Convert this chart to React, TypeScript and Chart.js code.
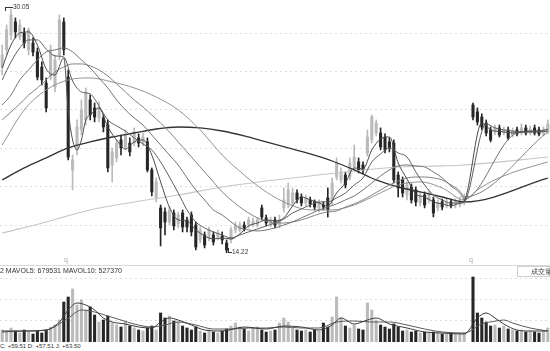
import React, { useEffect, useRef } from "react";
import { Chart, registerables } from "chart.js";
Chart.register(...registerables);

// ---- price data (trading-day index 0..124, index 106 = suspended) ----
const opens: (number | null)[] = [
  26.29, 27.40, 28.37, 29.22, 28.24, 28.50, 27.40, 27.85, 27.27, 26.29,
  25.25, 25.64, 24.99, 27.07, 29.22, 25.64, 19.60, 20.90, 22.20, 22.85,
  24.15, 23.63, 22.98, 22.98, 22.52, 19.92, 20.38, 21.55, 21.09, 21.35,
  21.35, 21.68, 21.35, 21.42, 19.60, 17.78, 17.13, 16.87, 16.22, 16.80,
  16.09, 16.80, 16.35, 16.67, 16.02, 15.05, 15.37, 15.18, 15.37, 15.24,
  15.31, 14.85, 15.05, 15.70, 15.70, 16.02, 16.02, 16.09, 16.02, 17.13,
  16.48, 16.09, 16.35, 16.02, 17.13, 17.32, 17.45, 18.10, 17.84, 17.45,
  17.65, 17.52, 17.13, 17.32, 17.78, 17.65, 19.14, 18.95, 19.27, 19.14,
  19.79, 20.12, 19.92, 20.70, 21.55, 22.00, 22.00, 21.74, 21.42, 21.35,
  19.27, 18.95, 17.97, 18.49, 18.30, 17.45, 17.97, 17.65, 17.65, 17.13,
  17.52, 17.32, 17.52, 17.32, 17.32, 17.45, null, 23.82, 23.37, 23.04,
  22.65, 22.20, 22.07, 22.33, 22.00, 22.20, 21.87, 22.20, 22.00, 22.33,
  22.00, 22.33, 22.20, 21.94, 22.07,
];
const closes: (number | null)[] = [
  27.07, 28.70, 29.67, 28.57, 29.02, 27.85, 28.70, 27.27, 25.64, 25.45,
  23.63, 27.40, 26.75, 29.35, 27.40, 20.44, 20.25, 22.39, 23.50, 24.67,
  23.17, 23.04, 23.63, 22.39, 19.73, 20.77, 21.35, 21.03, 21.87, 20.77,
  22.07, 21.35, 21.74, 19.60, 18.17, 18.82, 15.83, 16.22, 17.00, 15.96,
  16.67, 15.89, 15.89, 15.57, 14.59, 15.70, 14.72, 15.70, 14.92, 15.50,
  15.05, 14.40, 15.70, 15.96, 16.02, 15.83, 16.35, 16.28, 16.35, 16.54,
  16.15, 16.35, 16.02, 16.35, 17.65, 18.30, 18.10, 17.65, 17.45, 17.78,
  17.39, 17.19, 17.45, 17.19, 17.00, 18.75, 20.05, 19.47, 18.62, 20.05,
  20.44, 19.60, 19.60, 21.74, 23.04, 22.65, 21.09, 20.90, 21.03, 18.95,
  18.43, 18.10, 18.62, 17.65, 17.52, 17.97, 17.32, 18.10, 16.80, 17.45,
  17.19, 17.52, 17.32, 17.52, 17.65, 17.84, null, 23.04, 22.72, 22.39,
  22.00, 21.55, 22.33, 21.87, 22.20, 21.68, 22.13, 21.94, 22.33, 22.00,
  22.26, 22.00, 21.94, 22.20, 22.59,
];
const highs: (number | null)[] = [
  27.72, 29.02, 30.05, 29.48, 29.35, 28.83, 28.83, 28.18, 27.53, 26.62,
  25.58, 27.72, 27.07, 29.67, 29.48, 26.10, 20.57, 22.85, 24.15, 24.93,
  24.47, 23.95, 24.02, 23.17, 22.85, 21.03, 21.55, 21.87, 22.20, 21.68,
  22.33, 21.94, 22.00, 21.68, 19.73, 19.08, 17.32, 17.13, 17.19, 17.00,
  16.87, 17.00, 16.54, 16.87, 16.22, 15.89, 15.57, 15.89, 15.57, 15.70,
  15.57, 15.05, 15.89, 16.22, 16.22, 16.22, 16.54, 16.48, 16.48, 17.32,
  16.67, 16.54, 16.54, 16.67, 18.43, 18.75, 18.43, 18.30, 18.04, 17.97,
  17.84, 17.65, 17.65, 17.52, 18.43, 19.08, 20.38, 19.73, 19.47, 20.38,
  21.22, 20.38, 20.12, 22.20, 23.17, 22.85, 22.33, 21.94, 21.68, 21.55,
  19.47, 19.14, 18.82, 18.69, 18.49, 18.17, 18.17, 18.30, 17.84, 17.65,
  17.71, 17.71, 17.71, 17.71, 17.84, 18.04, null, 23.95, 23.63, 23.24,
  22.85, 22.39, 22.52, 22.52, 22.39, 22.39, 22.33, 22.39, 22.59, 22.52,
  22.46, 22.52, 22.39, 22.39, 22.85,
];
const lows: (number | null)[] = [
  25.77, 27.07, 28.05, 28.18, 28.05, 27.53, 27.07, 27.01, 25.45, 25.12,
  23.37, 25.45, 24.67, 26.75, 27.07, 20.25, 18.30, 20.57, 21.87, 22.52,
  22.85, 22.72, 22.72, 22.07, 19.47, 18.82, 20.12, 20.57, 20.90, 20.51,
  21.16, 21.09, 21.16, 19.47, 17.91, 17.52, 14.66, 15.37, 16.02, 15.70,
  15.83, 15.57, 15.57, 15.31, 14.40, 14.85, 14.53, 14.98, 14.72, 15.05,
  14.79, 14.22, 14.85, 15.50, 15.57, 15.63, 15.83, 15.89, 15.89, 16.35,
  15.96, 15.89, 15.83, 15.83, 16.87, 17.13, 17.26, 17.45, 17.26, 17.26,
  17.19, 17.00, 16.87, 17.00, 16.54, 17.32, 18.95, 18.75, 18.43, 18.95,
  19.60, 19.40, 19.34, 20.51, 21.35, 21.81, 20.90, 20.70, 20.77, 18.75,
  17.84, 17.84, 17.65, 17.45, 17.26, 17.26, 17.13, 17.45, 16.54, 16.93,
  17.00, 17.13, 17.13, 17.13, 17.19, 17.32, null, 22.85, 22.52, 22.20,
  21.81, 21.42, 21.87, 21.74, 21.87, 21.55, 21.74, 21.81, 21.87, 21.87,
  21.87, 21.87, 21.81, 21.81, 21.94,
];
// volume, thousands of shares
const volumes: (number | null)[] = [
  300, 250, 350, 275, 225, 300, 250, 200, 275, 225,
  300, 375, 425, 550, 1000, 1125, 1325, 925, 1050, 800,
  875, 675, 500, 550, 650, 475, 425, 375, 500, 400,
  350, 300, 275, 350, 400, 300, 725, 600, 650, 525,
  500, 400, 350, 300, 375, 275, 225, 300, 250, 225,
  275, 325, 400, 475, 375, 325, 275, 350, 375, 300,
  250, 275, 300, 475, 600, 500, 350, 300, 275, 300,
  250, 300, 275, 475, 375, 625, 1125, 600, 400, 350,
  425, 325, 300, 975, 800, 550, 425, 375, 325, 450,
  375, 275, 300, 250, 275, 225, 250, 225, 250, 225,
  200, 200, 225, 200, 200, 225, null, 1625, 725, 600,
  500, 400, 425, 350, 400, 325, 300, 275, 300, 250,
  275, 250, 225, 275, 350,
];

// ---- moving averages: [day index, value] ----
const ma5: [number, number][] = [
  [0, 26.23], [2, 27.72], [4, 28.5], [6, 28.57], [8, 27.72], [10, 26.16], [12, 25.77], [14, 26.88],
  [15, 23.5], [16, 21.55], [17, 20.9], [18, 21.55], [19, 22.85], [20, 23.17], [22, 23.63], [24, 22.39],
  [26, 21.55], [28, 20.96], [30, 21.42],
  [32, 21.55], [34, 20.57], [36, 18.82], [38, 17.19], [40, 16.35], [42, 16.28], [44, 15.7], [46, 15.31],
  [48, 15.11], [50, 15.18], [52, 15.11], [54, 15.44], [56, 15.96], [58, 16.15], [60, 16.35], [62, 16.28],
  [64, 16.48], [66, 17.26], [68, 17.84], [70, 17.65], [72, 17.45], [74, 17.26], [76, 18.1], [78, 18.75],
  [80, 19.73], [82, 19.66], [84, 20.9], [86, 21.61], [88, 21.74], [90, 20.05], [92, 19.01], [94, 18.04],
  [96, 17.84], [98, 17.52], [100, 17.39], [102, 17.26], [104, 17.45], [105, 17.58],
  [109, 22.65], [110, 22.46], [111, 22.2], [112, 22.13], [114, 22.07], [116, 22.0], [118, 22.07],
  [120, 22.13], [122, 22.13], [124, 22.26],
];
const ma10: [number, number][] = [
  [0, 25.45], [2, 26.62], [4, 27.53], [6, 28.05], [8, 28.05], [10, 27.46], [12, 27.01], [14, 26.94],
  [16, 25.38], [18, 24.67], [20, 24.54], [22, 23.76], [24, 22.85], [26, 22.46], [28, 22.13], [30, 21.68],
  [32, 21.29], [34, 20.9], [36, 20.12], [38, 19.14], [40, 18.1], [42, 17.0], [44, 16.22], [46, 15.83],
  [48, 15.57], [50, 15.37], [52, 15.18], [54, 15.37], [56, 15.57], [58, 15.76], [60, 15.96], [62, 16.15],
  [64, 16.41], [66, 16.8], [68, 17.06], [70, 17.32], [72, 17.52], [74, 17.52], [76, 17.78], [78, 18.1],
  [80, 18.62], [82, 19.08], [84, 20.12], [86, 20.64], [88, 21.03], [90, 20.7], [92, 20.44], [94, 19.47],
  [96, 18.62], [98, 17.97], [100, 17.65], [102, 17.45], [104, 17.45], [105, 17.52],
  [110, 22.59], [112, 22.33], [114, 22.2], [116, 22.13], [118, 22.07], [120, 22.07], [122, 22.07], [124, 22.13],
];
const ma20: [number, number][] = [
  [0, 23.82], [2, 24.47], [4, 25.45], [6, 26.1], [8, 26.75], [10, 27.27], [12, 27.4], [14, 27.53],
  [16, 27.27], [18, 26.75], [20, 26.23], [22, 25.58], [24, 24.93], [26, 24.15], [28, 23.5], [30, 22.98],
  [32, 22.52], [34, 21.87], [36, 21.22], [38, 20.57], [40, 19.92], [42, 19.08], [44, 18.3], [46, 17.65],
  [48, 17.0], [50, 16.67], [52, 16.22], [54, 15.83], [56, 15.7], [58, 15.63], [60, 15.7], [62, 15.83],
  [64, 16.02], [66, 16.22], [68, 16.48], [70, 16.74], [72, 17.0], [74, 17.19], [76, 17.39], [78, 17.65],
  [80, 17.91], [82, 18.3], [84, 18.75], [86, 19.21], [88, 19.6], [90, 19.86], [92, 19.92], [94, 19.86],
  [96, 19.79], [98, 19.47], [100, 19.08], [102, 18.56], [104, 18.1], [105, 17.71],
  [117, 22.0], [120, 22.07], [124, 22.13],
];
const ma30: [number, number][] = [
  [0, 22.85], [2, 23.37], [4, 23.89], [6, 24.47], [8, 24.93], [10, 25.45], [12, 25.97], [14, 26.29],
  [16, 26.49], [18, 26.49], [20, 26.36], [22, 26.1], [24, 25.71], [26, 25.19], [28, 24.67], [30, 24.15],
  [32, 23.69], [34, 23.17], [36, 22.65], [38, 22.07], [40, 21.42], [42, 20.77], [44, 20.12], [46, 19.47],
  [48, 18.82], [50, 18.17], [52, 17.65], [54, 17.19], [56, 16.8], [58, 16.48], [60, 16.28], [62, 16.15],
  [64, 16.15], [66, 16.22], [68, 16.35], [70, 16.54], [72, 16.74], [74, 16.87], [76, 16.93], [78, 17.19],
  [80, 17.39], [82, 17.65], [84, 17.97], [86, 18.3], [88, 18.62], [90, 18.88], [92, 19.08], [94, 19.14],
  [96, 19.14], [98, 19.08], [100, 18.95], [102, 18.62], [104, 18.23], [105, 17.84],
  [124, 22.07],
];
const ma60: [number, number][] = [
  [0, 21.22], [5, 23.5], [10, 24.8], [15, 25.45], [20, 25.58], [25, 25.32], [30, 24.93], [35, 24.34],
  [40, 23.5], [45, 22.2], [50, 20.57], [55, 19.27], [60, 18.17], [65, 17.39], [70, 17.0], [75, 17.0],
  [80, 17.32], [85, 17.97], [90, 18.62], [95, 18.82], [100, 18.43], [105, 17.65],
  [108, 18.3], [111, 18.82], [114, 19.21], [117, 19.53], [120, 19.79], [124, 20.12],
];
const ma120: [number, number][] = [
  [0, 18.95], [5, 19.73], [10, 20.38], [15, 21.03], [20, 21.42], [25, 21.74], [30, 22.0], [35, 22.26],
  [40, 22.39], [45, 22.33], [50, 22.13], [55, 21.81], [60, 21.42], [65, 21.03], [70, 20.64], [75, 20.18],
  [80, 19.6], [85, 18.95], [90, 18.49], [95, 18.17], [100, 17.84], [105, 17.52], [124, 19.07],
];
const ma250: [number, number][] = [
  [0, 15.5], [10, 16.22], [20, 17.0], [30, 17.52], [40, 17.97], [50, 18.49], [60, 18.88], [70, 19.21],
  [80, 19.53], [90, 19.79], [100, 19.86], [105, 19.92], [124, 20.44],
];
const mavol5: [number, number][] = [
  [0, 275], [5, 275], [10, 300], [13, 500], [15, 800], [17, 975], [19, 925], [21, 800], [23, 600], [25, 500],
  [28, 450], [31, 375], [34, 350], [36, 500], [38, 600], [40, 550], [43, 425], [46, 300], [50, 275], [55, 375],
  [60, 325], [64, 400], [68, 375], [72, 300], [75, 425], [77, 600], [80, 450], [83, 550], [85, 600], [88, 450],
  [92, 350], [96, 250], [100, 225], [105, 200], [108, 600], [110, 725], [112, 600], [114, 450], [117, 300],
  [120, 275], [124, 275],
];
const mavol10: [number, number][] = [
  [0, 250], [5, 275], [10, 300], [15, 600], [18, 800], [21, 750], [24, 650], [27, 550], [30, 450], [34, 375],
  [37, 425], [40, 500], [44, 425], [48, 325], [52, 325], [56, 350], [60, 350], [64, 375], [68, 350], [72, 350],
  [76, 500], [80, 525], [84, 500], [88, 500], [92, 425], [96, 325], [100, 250], [105, 225], [109, 450],
  [112, 520], [114, 550], [116, 475], [120, 350], [124, 275],
];

const priceGrid = [28.5, 26, 23.5, 21, 18.5, 16];
const volGrid = [530, 1060, 1590];

const UP = "#bababa";
const DOWN = "#262626";

function lineDs(label: string, pts: [number, number][], color: string, width: number) {
  return {
    type: "line" as const,
    label,
    data: pts.map(([x, y]) => ({ x, y })),
    borderColor: color,
    borderWidth: width,
    pointRadius: 0,
    cubicInterpolationMode: "monotone" as const,
    fill: false,
    order: 0,
  };
}

const baseX = {
  type: "linear" as const, min: -0.5, max: 124.5, display: false, offset: false,
  grid: { offset: false },
};

export default function App() {
  const priceRef = useRef<HTMLCanvasElement>(null);
  const volRef = useRef<HTMLCanvasElement>(null);

  useEffect(() => {
    const wick: any[] = [];
    const body: any[] = [];
    const vol: any[] = [];
    const cols: string[] = [];
    for (let i = 0; i < opens.length; i++) {
      const o = opens[i], c = closes[i], h = highs[i], l = lows[i], v = volumes[i];
      if (o == null || c == null || h == null || l == null) continue;
      const col = c >= o ? UP : DOWN;
      wick.push({ x: i, y: [l, h] });
      body.push({ x: i, y: [o, c] });
      vol.push({ x: i, y: v });
      cols.push(col);
    }

    const yBase = {
      border: { display: false, dash: [2, 3] },
      ticks: { display: false },
      grid: { color: "#dedede", drawTicks: false, lineWidth: 1 },
    };

    const price = new Chart(priceRef.current!, {
      type: "bar",
      data: {
        datasets: [
          lineDs("MA5", ma5, "#4a4a4a", 1),
          lineDs("MA10", ma10, "#5e5e5e", 1),
          lineDs("MA20", ma20, "#727272", 1),
          lineDs("MA30", ma30, "#828282", 1),
          lineDs("MA60", ma60, "#939393", 1),
          lineDs("MA120", ma120, "#333333", 1.3),
          lineDs("MA250", ma250, "#c6c6c6", 1.1),
          {
            type: "bar", label: "wick", data: wick, backgroundColor: cols,
            barThickness: 1, grouped: false, order: 2,
          } as any,
          {
            type: "bar", label: "body", data: body, backgroundColor: cols,
            barThickness: 2.4, grouped: false, minBarLength: 1, order: 1,
          } as any,
        ],
      },
      options: {
        animation: false,
        responsive: false,
        events: [],
        layout: { padding: 0 },
        plugins: { legend: { display: false }, tooltip: { enabled: false } },
        scales: {
          x: baseX,
          y: {
            ...yBase,
            min: 13.875, max: 30.645,
            afterBuildTicks: (s: any) => { s.ticks = priceGrid.map((value) => ({ value })); },
          },
        },
      } as any,
    });

    const volume = new Chart(volRef.current!, {
      type: "bar",
      data: {
        datasets: [
          lineDs("MAVOL5", mavol5, "#3a3a3a", 1),
          lineDs("MAVOL10", mavol10, "#5a5a5a", 1),
          {
            type: "bar", label: "VOL", data: vol, backgroundColor: cols,
            barThickness: 2.4, grouped: false, order: 1,
          } as any,
        ],
      },
      options: {
        animation: false,
        responsive: false,
        events: [],
        layout: { padding: 0 },
        plugins: { legend: { display: false }, tooltip: { enabled: false } },
        scales: {
          x: baseX,
          y: {
            ...yBase,
            min: 0, max: 1750,
            afterBuildTicks: (s: any) => { s.ticks = volGrid.map((value) => ({ value })); },
          },
        },
      } as any,
    });

    return () => { price.destroy(); volume.destroy(); };
  }, []);

  const font = "'Liberation Sans', Arial, sans-serif";
  const txt: React.CSSProperties = { position: "absolute", fontFamily: font, color: "#333", whiteSpace: "nowrap", lineHeight: 1 };

  return (
    <div style={{ position: "fixed", left: 0, top: 0, width: 550, height: 351, background: "#fff", overflow: "hidden" }}>
      <canvas ref={priceRef} width={550} height={258} style={{ position: "absolute", left: 0, top: 0 }} />
      <canvas ref={volRef} width={550} height={70} style={{ position: "absolute", left: 0, top: 272 }} />

      <div style={{ position: "absolute", left: 5, top: 7, width: 7, height: 3, borderLeft: "1px solid #333", borderTop: "1px solid #333" }} />
      <div style={{ ...txt, left: 13, top: 4, fontSize: 6.5 }}>30.05</div>

      <div style={{ position: "absolute", left: 228, top: 248, width: 3, height: 4, borderLeft: "1px solid #333", borderBottom: "1px solid #333" }} />
      <div style={{ ...txt, left: 232, top: 249, fontSize: 6.5 }}>14.22</div>

      <div style={{ ...txt, left: 64, top: 256, fontSize: 7, color: "#aaa" }}>q</div>
      <div style={{ ...txt, left: 469, top: 256, fontSize: 7, color: "#aaa" }}>q</div>

      <div style={{ position: "absolute", left: 0, top: 265, width: 550, height: 1, background: "#d8d8d8" }} />
      <div style={{ ...txt, left: 0, top: 267, fontSize: 7 }}>2 MAVOL5: 679531 MAVOL10: 527370</div>
      <div style={{ position: "absolute", left: 517, top: 266, width: 33, height: 11, border: "1px solid #d0d0d0", boxSizing: "border-box", background: "#fff" }} />
      <div style={{ ...txt, left: 531, top: 268, fontSize: 7 }}>成交量</div>

      <div style={{ ...txt, left: 0, top: 343, fontSize: 6 }}>C: +59.51 D: +57.51 J: +63.50</div>
    </div>
  );
}
